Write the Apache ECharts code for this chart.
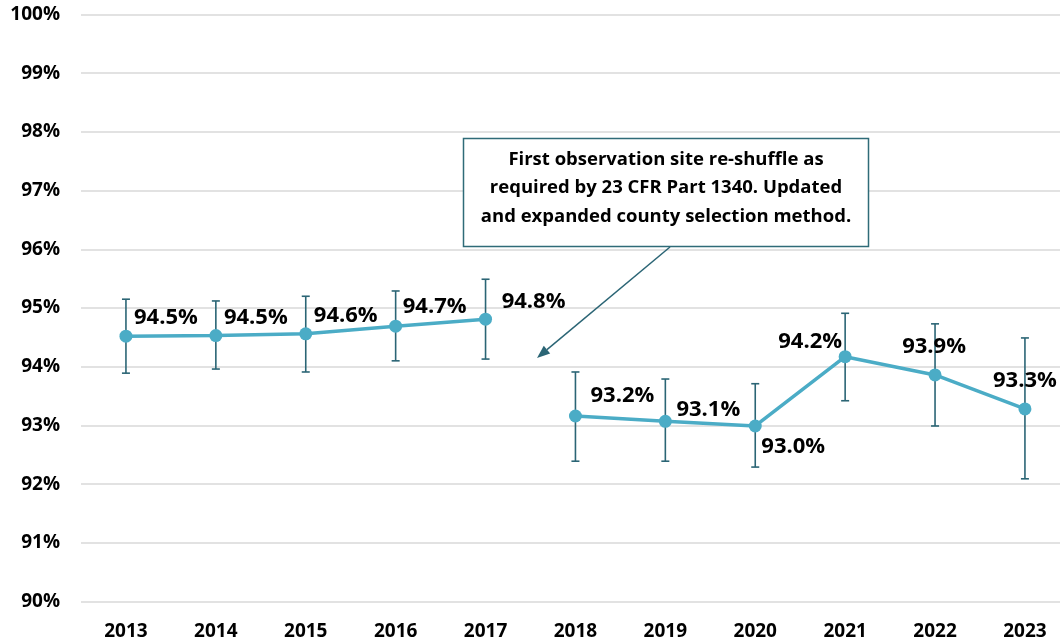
<!DOCTYPE html>
<html>
<head>
<meta charset="utf-8">
<script src="https://cdn.jsdelivr.net/npm/echarts@6/dist/echarts.min.js"></script>
<style>
  html, body { margin: 0; padding: 0; background: #fff; }
  #rateChart { width: 1060px; height: 642px; }
</style>
</head>
<body>
<div id="rateChart"></div>
<script>
// observed rates with error bar bounds
const years = [2013, 2014, 2015, 2016, 2017, 2018, 2019, 2020, 2021, 2022, 2023];
const rates = [94.52, 94.53, 94.56, 94.69, 94.81, 93.16, 93.07, 92.99, 94.17, 93.86, 93.28];
const upper = [95.15, 95.12, 95.20, 95.29, 95.49, 93.91, 93.79, 93.71, 94.91, 94.73, 94.49];
const lower = [93.89, 93.96, 93.91, 94.10, 94.13, 92.39, 92.39, 92.29, 93.42, 92.99, 92.09];
const breakAt = 5; // first year after the site re-shuffle
const note = "First observation site re-shuffle as\nrequired by 23 CFR Part 1340. Updated\nand expanded county selection method.";

// label offsets from each point (style only)
const labelOffsets = [[40, -18], [40, -18], [40, -18], [39, -19], [48, -17], [47, -20],
  [43, -12], [38, 21], [-35, -15], [-1, -28], [0, -28]];

const font = '"Open Sans", "DejaVu Sans", sans-serif';
const lineColor = "#4bacc6";
const barColor = "#2b6575";

let rateChart = echarts.init(document.getElementById("rateChart"));

function lineData(keep) {
  return rates.map((v, i) => {
    if (!keep(i)) return [years[i], "-"];
    return { value: [years[i], v], label: { offset: labelOffsets[i] } };
  });
}

const lineSeries = (data) => ({
  type: "line",
  data: data,
  z: 3,
  symbol: "circle",
  symbolSize: 13,
  lineStyle: { color: lineColor, width: 3.5 },
  itemStyle: { color: lineColor },
  label: {
    show: true,
    position: "inside",
    align: "center",
    verticalAlign: "middle",
    fontFamily: font,
    fontWeight: "bold",
    fontSize: 22,
    color: "#000",
    formatter: p => p.value[1].toFixed(1) + "%"
  },
  emphasis: { disabled: true },
  silent: true
});

// arrow from the note box down to the gap
const tail = [670, 247], tip = [537, 358];
const dx = tip[0] - tail[0], dy = tip[1] - tail[1];
const len = Math.sqrt(dx * dx + dy * dy);
const ux = dx / len, uy = dy / len;
const base = [tip[0] - ux * 13, tip[1] - uy * 13];

rateChart.setOption({
  animation: false,
  backgroundColor: "#fff",
  grid: { left: 81, right: 0, top: 14.5, bottom: 40.5 },
  xAxis: {
    type: "value",
    min: 2012.5,
    max: 2023.39,
    axisLine: { show: false },
    axisTick: { show: false },
    splitLine: { show: false },
    axisLabel: {
      customValues: years,
      margin: 21,
      fontFamily: font,
      fontWeight: "bold",
      fontSize: 19,
      color: "#000",
      formatter: v => String(v)
    }
  },
  yAxis: {
    type: "value",
    min: 90,
    max: 100,
    interval: 1,
    axisLine: { show: false },
    axisTick: { show: false },
    splitLine: { lineStyle: { color: "#d9d9d9", width: 1.5 } },
    axisLabel: {
      margin: 21,
      fontFamily: font,
      fontWeight: "bold",
      fontSize: 19,
      color: "#000",
      formatter: v => v + "%"
    }
  },
  series: [
    {
      type: "custom",
      z: 2,
      silent: true,
      data: years.map((y, i) => [y, upper[i], lower[i]]),
      encode: { x: 0, y: [1, 2] },
      renderItem: (params, api) => {
        const hi = api.coord([api.value(0), api.value(1)]);
        const lo = api.coord([api.value(0), api.value(2)]);
        const hw = 4;
        const st = { stroke: barColor, lineWidth: 1.6 };
        return {
          type: "group",
          children: [
            { type: "line", shape: { x1: hi[0], y1: hi[1], x2: lo[0], y2: lo[1] }, style: st },
            { type: "line", shape: { x1: hi[0] - hw, y1: hi[1], x2: hi[0] + hw, y2: hi[1] }, style: st },
            { type: "line", shape: { x1: lo[0] - hw, y1: lo[1], x2: lo[0] + hw, y2: lo[1] }, style: st }
          ]
        };
      }
    },
    lineSeries(lineData(i => i < breakAt)),
    lineSeries(lineData(i => i >= breakAt))
  ],
  graphic: [
    {
      type: "rect",
      shape: { x: 463.5, y: 138.5, width: 405, height: 108 },
      style: { fill: "#fff", stroke: "#2f6b78", lineWidth: 1.5 },
      z: 10
    },
    {
      type: "text",
      x: 666,
      y: 188,
      z: 11,
      style: {
        text: note,
        font: "bold 18.5px " + font,
        fill: "#000",
        align: "center",
        verticalAlign: "middle",
        lineHeight: 28.5
      }
    },
    {
      type: "line",
      shape: { x1: tail[0], y1: tail[1], x2: base[0], y2: base[1] },
      style: { stroke: barColor, lineWidth: 1.5 },
      z: 10
    },
    {
      type: "polygon",
      shape: {
        points: [
          tip,
          [base[0] + uy * 5, base[1] - ux * 5],
          [base[0] - uy * 5, base[1] + ux * 5]
        ]
      },
      style: { fill: barColor },
      z: 10
    }
  ]
});

window.addEventListener("resize", () => {
  rateChart.resize();
});
</script>
</body>
</html>
